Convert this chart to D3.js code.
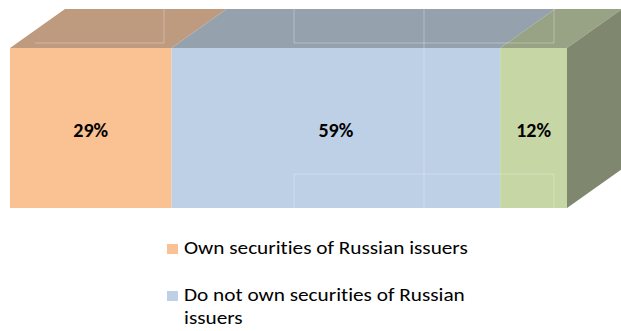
<!DOCTYPE html>
<html>
<head>
<meta charset="utf-8">
<script src="https://cdn.jsdelivr.net/npm/d3@7"></script>
<style>
  html, body { margin: 0; padding: 0; background: #ffffff; }
  svg { display: block; }
  text { font-variant-ligatures: none; font-feature-settings: "liga" 0, "clig" 0; }
</style>
</head>
<body>
<svg id="chart" width="621" height="331"></svg>
<script>
// Survey shares, stacked into one 3-D bar
const categories = [
  "Own securities of Russian issuers",
  "Do not own securities of Russian issuers",
  "No answer"
];
const shares = [29, 59, 12];
const frontColors = ["#FAC192", "#BDD0E5", "#C6D6A4"];
const topColors   = ["#BE9B7F", "#96A1AE", "#98A284"];
const sideColor   = "#7F876F";
const legendItems = [0, 1];
const legendLines = [
  ["Own securities of Russian issuers"],
  ["Do not own securities of Russian", "issuers"]
];

const svg = d3.select("#chart");
const font = "Carlito, Lato, 'Open Sans', sans-serif";

// Layout of the bar's front face and its depth offset
const x = d3.scaleLinear().domain([0, 100]).range([10, 567]);
const y0 = 48, y1 = 208;
const dx = 55, dy = -39;

let acc = 0;
const segs = shares.map((v, i) => {
  const s = { i, v, a: acc, b: acc + v };
  acc += v;
  return s;
});

const g = svg.append("g");

// Top faces
g.selectAll("path.top").data(segs).join("path")
  .attr("class", "top")
  .attr("d", d => `M${x(d.a)},${y0} L${x(d.b)},${y0} L${x(d.b) + dx},${y0 + dy} L${x(d.a) + dx},${y0 + dy} Z`)
  .attr("fill", d => topColors[d.i]);

// Right side face of the last segment
const last = segs[segs.length - 1];
g.append("path")
  .attr("d", `M${x(last.b)},${y0} L${x(last.b) + dx},${y0 + dy} L${x(last.b) + dx},${y1 + dy} L${x(last.b)},${y1} Z`)
  .attr("fill", sideColor);

// Front faces
g.selectAll("rect.front").data(segs).join("rect")
  .attr("class", "front")
  .attr("x", d => x(d.a))
  .attr("y", y0)
  .attr("width", d => x(d.b) - x(d.a))
  .attr("height", y1 - y0)
  .attr("fill", d => frontColors[d.i]);

// Faint gridlines showing through the translucent bar
const gx = d3.scaleLinear().domain([0, 3]).range([164, 554]);
const grid = g.append("g")
  .attr("stroke", "#ffffff")
  .attr("stroke-opacity", 0.3)
  .attr("stroke-width", 1)
  .attr("fill", "none");
const gyTop = y0 + dy, gyMid = y0 - 5, gyLow = 174;
grid.append("path").attr("d", `M35,${gyMid} H${gx(0)} V${gyTop}`);
grid.append("path").attr("d", `M${gx(1)},${gyTop} V${gyMid} H${gx(3)} V${gyTop}`);
grid.append("path").attr("d", `M${gx(2)},${gyTop} V${y1}`);
grid.append("path").attr("d", `M${gx(1)},${y1} V${gyLow} H${gx(3)} V${y1}`);

// Value labels
g.selectAll("text.val").data(segs).join("text")
  .attr("class", "val")
  .attr("x", d => (x(d.a) + x(d.b)) / 2)
  .attr("y", 137)
  .attr("text-anchor", "middle")
  .attr("font-family", font)
  .attr("font-weight", "bold")
  .attr("font-size", 20)
  .attr("fill", "#000000")
  .text(d => d.v + "%");

// Legend
const legendY = [254, 301];
const lg = svg.append("g");
const textX = 184;
const firstWidth = 284; // rendered width of the first legend line
let stretch = 1;
legendItems.forEach((k, j) => {
  lg.append("rect")
    .attr("x", 167)
    .attr("y", legendY[j] - 10)
    .attr("width", 11)
    .attr("height", 10)
    .attr("fill", frontColors[k]);
  legendLines[j].forEach((line, n) => {
    const t = lg.append("text")
      .attr("x", 0)
      .attr("y", 0)
      .attr("font-family", font)
      .attr("font-size", 18)
      .attr("fill", "#000000")
      .text(line);
    if (j === 0 && n === 0) stretch = firstWidth / t.node().getComputedTextLength();
    t.attr("transform", `translate(${textX},${legendY[j] + n * 23}) scale(${stretch},1)`);
  });
});
</script>
</body>
</html>
